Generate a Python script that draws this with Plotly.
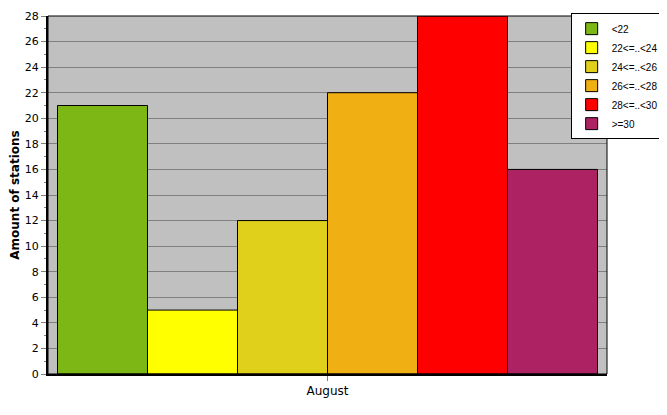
import plotly.graph_objects as go

categories = ["August"]
series_names = ["<22", "22<=..<24", "24<=..<26", "26<=..<28", "28<=..<30", ">=30"]
series_values = [21, 5, 12, 22, 28, 16]
series_colors = ["#7DB715", "#FFFF00", "#E0D01B", "#F0B014", "#FF0000", "#AC2262"]
y_ticks = list(range(0, 29, 2))

fig = go.Figure()
for name, val, col in zip(series_names, series_values, series_colors):
    fig.add_trace(go.Bar(
        x=categories, y=[val], name=name,
        marker=dict(color=col, line=dict(color="black", width=1)),
    ))

fig.update_layout(
    width=659, height=407,
    margin=dict(l=40, r=60, t=8, b=41, autoexpand=False),
    paper_bgcolor="white",
    plot_bgcolor="#C0C0C0",
    barmode="group",
    bargap=0.034,
    bargroupgap=0,
    font=dict(family="DejaVu Sans, Liberation Sans, sans-serif", size=11, color="black"),
    showlegend=True,
    legend=dict(
        x=0.935, xanchor="left", y=1.008, yanchor="top",
        bgcolor="white", bordercolor="black", borderwidth=1,
        font=dict(size=10, family="Liberation Sans, Arial, sans-serif"),
        tracegroupgap=0, itemwidth=30,
    ),
    xaxis=dict(
        showgrid=False, showline=True, linecolor="black", linewidth=2,
        ticks="outside", ticklen=5, tickcolor="#808080",
        tickfont=dict(size=12),
    ),
    yaxis=dict(
        range=[0, 28], tickvals=y_ticks,
        showgrid=True, gridcolor="#808080", gridwidth=1,
        showline=True, linecolor="black", linewidth=2,
        ticks="outside", ticklen=5, tickcolor="#808080",
        tickfont=dict(size=11),
        minor=dict(dtick=1, ticks="outside", ticklen=2, tickcolor="#808080", showgrid=False),
        zeroline=False,
        title=dict(text="<b>Amount of stations</b>", font=dict(size=12), standoff=3),
    ),
)

fig.add_shape(type="rect", xref="paper", yref="paper", x0=0, y0=0, x1=1, y1=1,
              line=dict(color="black", width=1), layer="above")

fig.write_html("out.html")
